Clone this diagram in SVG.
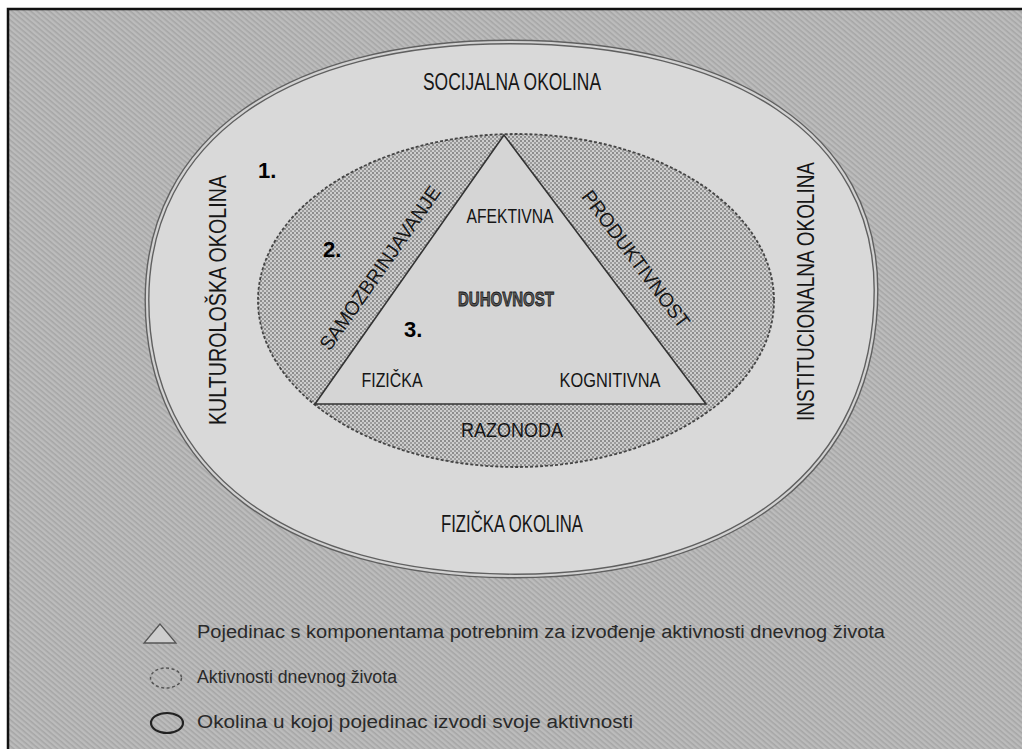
<svg xmlns="http://www.w3.org/2000/svg" width="1022" height="749" viewBox="0 0 1022 749">
<defs>
<pattern id="bgTex" width="4" height="4" patternUnits="userSpaceOnUse" patternTransform="rotate(40)">
<rect width="4" height="4" fill="#bcbcbc"/>
<rect width="4" height="1.6" fill="#a6a6a6"/>
</pattern>
<pattern id="dots" width="4" height="4" patternUnits="userSpaceOnUse">
<rect width="4" height="4" fill="#cdcdcd"/>
<rect width="2" height="2" fill="#8c8c8c"/>
<rect x="2" y="2" width="2" height="2" fill="#9c9c9c"/>
</pattern>
<style>
.t{font-family:"Liberation Sans","DejaVu Sans",sans-serif;fill:#161616;}
.lbl{font-size:23px;}
.in{font-size:20px;}
.num{font-family:"Liberation Sans",sans-serif;font-weight:bold;font-size:22px;fill:#000;}
.leg{font-size:18px;fill:#2a2a2a;}
</style>
</defs>
<rect x="0" y="0" width="1022" height="749" fill="#ffffff"/>
<rect x="8" y="9" width="1014" height="740" fill="url(#bgTex)"/>
<path d="M8 749 V9 H1022" fill="none" stroke="#111" stroke-width="2.5"/>

<g id="outer-ellipse">
<path d="M147,300 C147,140 285,42 510,42 C737,42 876,136 876,290 C876,467 739,576 515,576 C287,576 147,471 147,300 Z" fill="#d9d9d9" stroke="#606060" stroke-width="5"/>
<path d="M147,300 C147,140 285,42 510,42 C737,42 876,136 876,290 C876,467 739,576 515,576 C287,576 147,471 147,300 Z" fill="none" stroke="#d2d2d2" stroke-width="2.2"/>
</g>

<g id="activities-ellipse">
<ellipse cx="516" cy="300.5" rx="258" ry="166.5" fill="url(#dots)" stroke="#444" stroke-width="1.8" stroke-dasharray="3 2"/>
</g>

<g id="triangle">
<polygon points="504,135 315,404 706,404" fill="#d5d5d5" stroke="#333" stroke-width="1.6"/>
</g>

<g id="labels-env">
<text class="t lbl" x="512" y="90" text-anchor="middle" textLength="178" lengthAdjust="spacingAndGlyphs">SOCIJALNA OKOLINA</text>
<text class="t lbl" x="512" y="532" text-anchor="middle" textLength="142" lengthAdjust="spacingAndGlyphs">FIZIČKA OKOLINA</text>
<text class="t lbl" transform="translate(226,300) rotate(-90)" text-anchor="middle" textLength="250" lengthAdjust="spacingAndGlyphs">KULTUROLOŠKA  OKOLINA</text>
<text class="t lbl" transform="translate(814,291.5) rotate(-90)" text-anchor="middle" textLength="259" lengthAdjust="spacingAndGlyphs">INSTITUCIONALNA  OKOLINA</text>
</g>

<g id="labels-activities">
<text class="t in" transform="translate(385.7,272) rotate(-55)" text-anchor="middle" textLength="195" lengthAdjust="spacingAndGlyphs">SAMOZBRINJAVANJE</text>
<text class="t in" transform="translate(630.4,263.2) rotate(53.3)" text-anchor="middle" textLength="166" lengthAdjust="spacingAndGlyphs">PRODUKTIVNOST</text>
<text class="t in" x="512" y="437" text-anchor="middle" textLength="102" lengthAdjust="spacingAndGlyphs">RAZONODA</text>
</g>

<g id="labels-components">
<text class="t in" x="510" y="223" text-anchor="middle" textLength="87" lengthAdjust="spacingAndGlyphs">AFEKTIVNA</text>
<text x="506" y="306" text-anchor="middle" textLength="96" lengthAdjust="spacingAndGlyphs" style="font-family:'Liberation Sans',sans-serif;font-weight:bold;font-size:21px;fill:#5a5a5a;stroke:#1a1a1a;stroke-width:0.9">DUHOVNOST</text>
<text class="t in" x="392" y="387" text-anchor="middle" textLength="61" lengthAdjust="spacingAndGlyphs">FIZIČKA</text>
<text class="t in" x="610" y="387" text-anchor="middle" textLength="101" lengthAdjust="spacingAndGlyphs">KOGNITIVNA</text>
</g>

<g id="numbers">
<text class="num" x="258" y="178">1.</text>
<text class="num" x="323" y="257">2.</text>
<text class="num" x="404" y="337">3.</text>
</g>

<g id="legend">
<polygon points="160,624 144,643 176,643" fill="#cdcdcd" stroke="#555" stroke-width="1.3"/>
<text class="t leg" x="197" y="638" textLength="688" lengthAdjust="spacingAndGlyphs">Pojedinac s komponentama potrebnim za izvođenje aktivnosti dnevnog života</text>
<ellipse cx="166" cy="678" rx="15.5" ry="10" fill="none" stroke="#555" stroke-width="1.5" stroke-dasharray="3 2.5"/>
<text class="t leg" x="197" y="683" textLength="200" lengthAdjust="spacingAndGlyphs">Aktivnosti dnevnog života</text>
<ellipse cx="167" cy="723" rx="16" ry="10" fill="none" stroke="#222" stroke-width="2.2"/>
<text class="t leg" x="197" y="728" textLength="436" lengthAdjust="spacingAndGlyphs">Okolina u kojoj pojedinac izvodi svoje aktivnosti</text>
</g>
</svg>
